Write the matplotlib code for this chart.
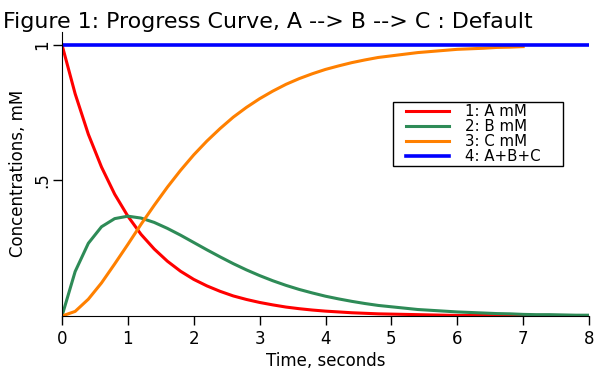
import numpy as np
import matplotlib.pyplot as plt
from matplotlib.legend_handler import HandlerLine2D

# time points, seconds
time = [0.0, 0.2, 0.4, 0.6, 0.8, 1.0, 1.2, 1.4, 1.6, 1.8, 2.0, 2.2, 2.4, 2.6, 2.8,
        3.0, 3.2, 3.4, 3.6, 3.8, 4.0, 4.2, 4.4, 4.6, 4.8, 5.0, 5.2, 5.4, 5.6, 5.8,
        6.0, 6.2, 6.4, 6.6, 6.8, 7.0, 7.2, 7.4, 7.6, 7.8, 8.0]

a_mM = [1.000, 0.819, 0.670, 0.549, 0.449, 0.368, 0.301, 0.247, 0.202, 0.165,
        0.135, 0.111, 0.091, 0.074, 0.061, 0.050, 0.041, 0.033, 0.027, 0.022,
        0.018, 0.015, 0.012, 0.010, 0.008, 0.007, 0.006, 0.005, 0.004, 0.003,
        0.002, 0.002, 0.002, 0.001, 0.001, 0.001, 0.001, 0.001, 0.001, 0.000, 0.000]

b_mM = [0.000, 0.164, 0.268, 0.329, 0.359, 0.368, 0.361, 0.345, 0.323, 0.298,
        0.271, 0.244, 0.218, 0.193, 0.170, 0.149, 0.130, 0.113, 0.098, 0.085,
        0.073, 0.063, 0.054, 0.046, 0.039, 0.034, 0.029, 0.024, 0.021, 0.018,
        0.015, 0.013, 0.011, 0.009, 0.008, 0.006, 0.005, 0.005, 0.004, 0.003, 0.003]

# C curve stops at 7 s
c_time = time[:36]
c_mM = [0.000, 0.017, 0.062, 0.122, 0.192, 0.264, 0.338, 0.408, 0.475, 0.537,
        0.594, 0.645, 0.691, 0.733, 0.769, 0.801, 0.829, 0.854, 0.875, 0.893,
        0.909, 0.922, 0.934, 0.944, 0.953, 0.959, 0.965, 0.971, 0.975, 0.979,
        0.983, 0.985, 0.987, 0.990, 0.991, 0.993]

total_time = [0.0, 8.0]
total_mM = [1.0, 1.0]

labels = ["1: A mM", "2: B mM", "3: C mM", "4: A+B+C"]
xticks = [0, 1, 2, 3, 4, 5, 6, 7, 8]
yticks = [0.5, 1.0]
ytick_labels = [".5", "1"]


class GapLine(HandlerLine2D):
    # leaves some empty room left of the legend line
    gap = 8

    def create_artists(self, legend, orig_handle, xdescent, ydescent, width,
                       height, fontsize, trans):
        return super().create_artists(legend, orig_handle, xdescent - self.gap,
                                      ydescent, width - self.gap, height,
                                      fontsize, trans)


plt.rcParams['font.family'] = 'DejaVu Sans'
fig = plt.figure(figsize=(6, 3.72), dpi=100)
ax = fig.add_axes([0.1033, 0.1505, 0.8784, 0.7643])

lw = 2.2
ax.plot(time, a_mM, color='#ff0000', lw=lw, label=labels[0])
ax.plot(time, b_mM, color='#2e8b57', lw=lw, label=labels[1])
ax.plot(c_time, c_mM, color='#ff8000', lw=lw, label=labels[2])
ax.plot(total_time, total_mM, color='#0000ff', lw=2.6, label=labels[3])

ax.set_xlim(0, 8)
ax.set_ylim(0, 1.048)
ax.spines['top'].set_visible(False)
ax.spines['right'].set_visible(False)
ax.set_xticks(xticks)
ax.set_yticks(yticks)
ax.set_yticklabels(ytick_labels, rotation=90, va='center')
ax.tick_params(axis='both', direction='out', length=6.5, width=1, labelsize=12, colors='black')
ax.tick_params(axis='y', pad=1)

ax.set_xlabel("Time, seconds", fontsize=12, labelpad=3)
ax.set_ylabel("Concentrations, mM", fontsize=12, labelpad=5)

fig.text(0.005, 0.925, "Figure 1: Progress Curve, A --> B --> C : Default",
         fontsize=15.9, va='baseline', ha='left')

leg = ax.legend(loc='upper left', bbox_to_anchor=(0.628, 0.0, 0.3226, 0.752),
                mode='expand', fontsize=10.8,
                frameon=True, fancybox=False, framealpha=1, edgecolor='black',
                handlelength=3.6, handletextpad=1.1, labelspacing=0.0,
                borderpad=0.12, borderaxespad=0,
                handler_map={plt.Line2D: GapLine()})
leg.get_frame().set_linewidth(1)

fig.savefig("out.png", dpi=100)
